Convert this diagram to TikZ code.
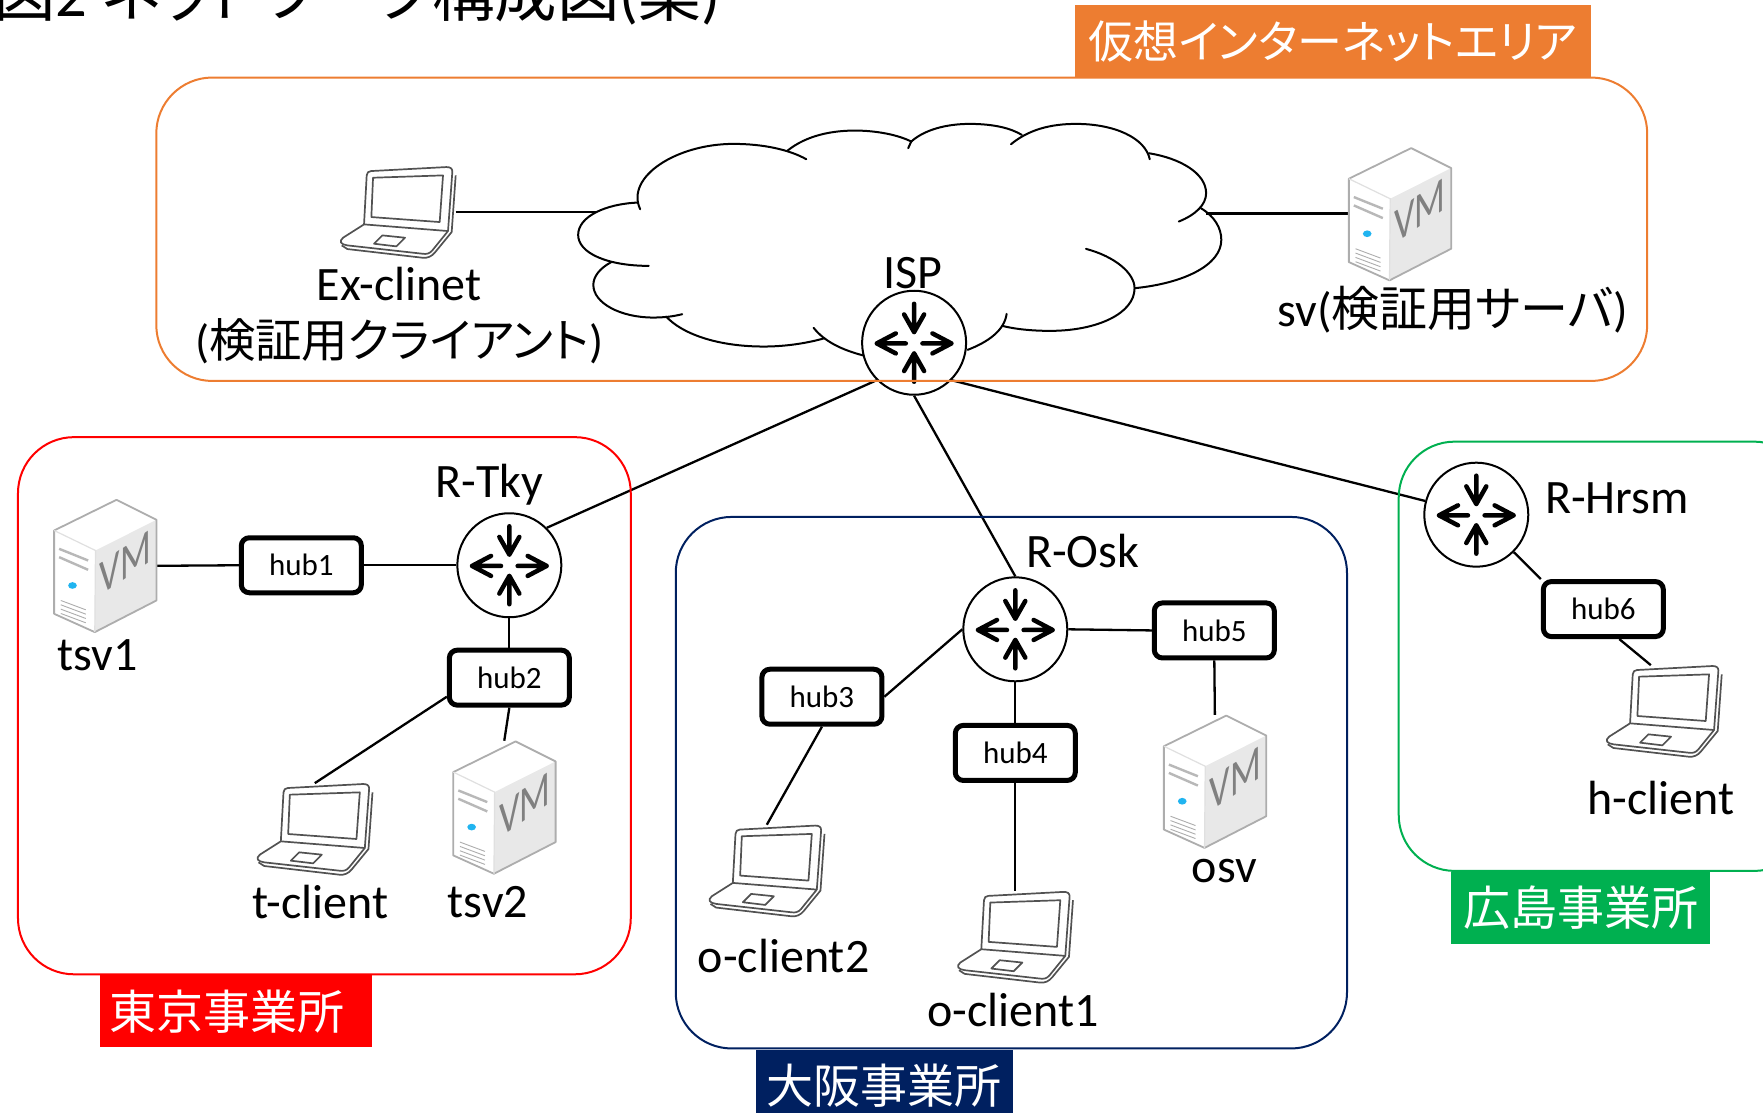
\documentclass[tikz,border=0pt]{standalone}
\usepackage{fontspec}
\setmainfont{Carlito}
\newfontfamily\jp[RawFeature=+palt]{Noto Sans CJK JP}
\newcommand{\J}[1]{{\jp #1}}
\definecolor{cOrange}{HTML}{ED7D31}
\definecolor{cRed}{HTML}{FF0000}
\definecolor{cNavy}{HTML}{002060}
\definecolor{cGreen}{HTML}{00B050}
\definecolor{cDot}{HTML}{20B4F0}
\tikzset{
  lbl/.style={inner sep=0pt,font=\fontsize{48}{54}\selectfont},
  hubbox/.style={draw=black,line width=5pt,fill=white,rounded corners=8pt,minimum width=120pt,minimum height=55pt,inner sep=0pt,font=\fontsize{31}{36}\selectfont},
  routerbox/.style={circle,draw=black,line width=2pt,fill=white,minimum size=104pt,inner sep=0pt},
  lapbox/.style={minimum width=115pt,minimum height=92pt,inner sep=0pt},
  vmbox/.style={minimum width=103pt,minimum height=133pt,inner sep=0pt},
  link/.style={draw=black,line width=2.3pt},
  cloudline/.style={draw=black,line width=2pt,line cap=round},
  site/.style={line width=2pt,rounded corners=56pt},
  tag/.style={inner sep=0pt,text=white,font=\fontsize{47}{52}\selectfont},
}
\newcommand{\laptopicon}[1]{%
\begin{scope}[shift={(#1.center)},x=.3333pt,y=-.3333pt,shift={(-237,-186)},draw=black!68,line width=1.7pt,line join=round]
  \draw (135,222) -- (143,75) .. controls (144,66) and (148,63) .. (156,62) -- (382,50) .. controls (394,50) and (400,54) .. (400,64) -- (387,242);
  \draw (162,82) -- (372,75) -- (362,215) -- (157,200) -- cycle;
  \draw (135,222) -- (387,242) -- (340,300) .. controls (332,310) and (322,312) .. (310,310) -- (85,285) .. controls (66,282) and (58,274) .. (72,262) -- cycle;
  \draw (190,255) -- (258,262) -- (232,288) -- (165,280) -- cycle;
  \draw (68,285) -- (85,296) -- (310,322) .. controls (326,324) and (338,318) .. (348,306) -- (398,245) -- (410,75);
\end{scope}}
\newcommand{\vmicon}[1]{%
\begin{scope}[shift={(#1.center)},x=.3333pt,y=-.3333pt,shift={(-301,-281)}]
  \fill[white] (148,175) -- (335,83) -- (455,143) -- (455,385) -- (270,480) -- (148,425) -- cycle;
  \fill[black!9] (272,235) -- (455,143) -- (455,385) -- (270,480) -- cycle;
  \draw[black!32,line width=1.8pt,line join=round] (148,175) -- (335,83) -- (455,143) -- (455,385) -- (270,480) -- (148,425) -- cycle;
  \draw[black!12,line width=1.2pt] (148,175) -- (272,235) -- (270,480);
  \draw[black!28,line width=2.4pt] (163,230) -- (250,265) (163,255) -- (250,293);
  \fill[cDot] (203,340) ellipse [x radius=13,y radius=10];
  \draw[black!32,line width=.9pt] (168,385) -- (243,413) (168,398) -- (243,426) (168,411) -- (243,439) (168,424) -- (243,452);
  \node[inner sep=0pt,text=black!50,font=\fontsize{50}{54}\selectfont,xscale=.72,yslant=.5] at (362,272) {VM};
\end{scope}}
\newcommand{\routerglyph}[1]{%
\begin{scope}[shift={(#1.center)},x=.3333pt,y=-.3333pt,line width=4.5pt,line cap=round,line join=round,draw=black]
  \draw (0,-117) -- (0,-32) (-30,-85) -- (0,-32) -- (30,-85);
  \draw (0,117) -- (0,32) (-30,85) -- (0,32) -- (30,85);
  \draw (-25,2) -- (-112,2) (-55,-28) -- (-112,2) -- (-55,32);
  \draw (25,2) -- (112,2) (55,-28) -- (112,2) -- (55,32);
\end{scope}}
\begin{document}
\begin{tikzpicture}[x=1.1244pt,y=-1.1238pt]
\useasboundingbox (0,0) rectangle (1568,990);
\clip (0,0) rectangle (1568,990);
% title
\node[anchor=base west,inner sep=0pt,font=\fontsize{62.5}{68}\selectfont] (title) at (-6,15) {\J{図}2 \J{ネットワーク構成図}(\J{案})};
% cloud
\begin{scope}[shift={(498,88.9)},x=.4337pt,y=-.3333pt]
 \draw[cloudline] (185,328) .. controls (150,230) and (270,132) .. (400,132) .. controls (470,132) and (530,150) .. (568,178);
 \draw[cloudline] (525,152) .. controls (570,105) and (630,92) .. (680,92) .. controls (730,92) and (780,105) .. (810,125) -- (803,145);
 \draw[cloudline] (810,125) .. controls (840,90) and (890,72) .. (945,72) .. controls (1000,72) and (1040,85) .. (1065,105);
 \draw[cloudline] (1040,133) .. controls (1080,90) and (1130,72) .. (1190,72) .. controls (1280,72) and (1350,115) .. (1360,178);
 \draw[cloudline] (1358,160) .. controls (1430,175) and (1490,220) .. (1490,280) .. controls (1490,315) and (1465,345) .. (1427,365);
 \draw[cloudline] (1478,325) .. controls (1510,350) and (1525,385) .. (1525,420) .. controls (1525,495) and (1440,550) .. (1325,565);
 \draw[cloudline] (1213,447) .. controls (1280,470) and (1325,520) .. (1325,565) .. controls (1325,640) and (1240,693) .. (1130,693) .. controls (1090,693) and (1050,688) .. (1020,678);
 \draw[cloudline] (1030,642) .. controls (1025,690) and (990,725) .. (940,750);
 \draw[cloudline] (700,767) .. controls (650,750) and (610,725) .. (585,684);
 \draw[cloudline] (610,715) .. controls (570,730) and (520,740) .. (470,740) .. controls (360,740) and (280,700) .. (245,650);
 \draw[cloudline] (282,643) .. controls (260,650) and (240,653) .. (215,653) .. controls (140,653) and (77,610) .. (77,555) .. controls (77,530) and (92,505) .. (118,487);
 \draw[cloudline] (205,498) .. controls (110,498) and (42,460) .. (42,405) .. controls (42,350) and (105,312) .. (180,308);
\end{scope}
% routers
\node[routerbox] (isp) at (813,305) {};
\node[routerbox] (rtky) at (453,503) {};
\node[routerbox] (rosk) at (903,560) {};
\node[routerbox] (rhrsm) at (1313,458) {};
% hubs
\node[hubbox] (hub1) at (268,503) {hub1};
\node[hubbox] (hub2) at (453,603) {hub2};
\node[hubbox] (hub3) at (731,620) {hub3};
\node[hubbox] (hub4) at (903,670) {hub4};
\node[hubbox] (hub5) at (1080,561) {hub5};
\node[hubbox] (hub6) at (1426,542) {hub6};
% devices
\node[lapbox] (exc) at (354,189) {};
\node[lapbox] (tclient) at (280,738) {};
\node[lapbox] (oclient2) at (682,775) {};
\node[lapbox] (oclient1) at (903,834) {};
\node[lapbox] (hclient) at (1480,633) {};
\node[vmbox] (sv) at (1245,190.5) {};
\node[vmbox] (tsv1) at (93.5,503.5) {};
\node[vmbox] (tsv2) at (448.5,718.5) {};
\node[vmbox] (osv) at (1080.5,695.5) {};
\coordinate (cloudw) at (530,188.5);
\coordinate (cloude) at (1073,190);
% connectors
\draw[link] (exc.east |- cloudw) -- (cloudw);
\draw[link] (sv.west |- cloude) -- (cloude);
\draw[link] (isp.225) -- (rtky.45);
\draw[link] (isp.south) -- (rosk.north);
\draw[link] (isp.-45) -- (rhrsm.165);
\draw[link] (rtky.west) -- (hub1.east);
\draw[link] (hub1.west) -- (tsv1.east);
\draw[link] (rtky.south) -- (hub2.north);
\draw[link] (hub2.197) -- (tclient.north);
\draw[link] (hub2.south) -- (tsv2.north);
\draw[link] (rosk.west) -- (hub3.east);
\draw[link] (hub3.south) -- (oclient2.north);
\draw[link] (rosk.south) -- (hub4.north);
\draw[link] (hub4.south) -- (oclient1.north);
\draw[link] (rosk.east) -- (hub5.west);
\draw[link] (hub5.south) -- (osv.north);
\draw[link] (rhrsm.-45) -- (hub6.north west);
\draw[link] (hub6.-62) -- (hclient.106);
% icons
\routerglyph{isp}\routerglyph{rtky}\routerglyph{rosk}\routerglyph{rhrsm}
\laptopicon{exc}\laptopicon{tclient}\laptopicon{oclient2}\laptopicon{oclient1}\laptopicon{hclient}
\vmicon{sv}\vmicon{tsv1}\vmicon{tsv2}\vmicon{osv}
% site frames
\draw[site,cOrange] (139,69) rectangle (1465,339);
\draw[site,cRed] (16,389) rectangle (561,867);
\draw[site,cNavy] (601,460) rectangle (1198,933);
\draw[site,cGreen] (1244,393) rectangle (1610,775);
% site tags
\node[tag,fill=cOrange,minimum width=516pt,minimum height=73pt,font=\fontsize{45}{50}\selectfont] (tago) at (1185.5,36.5) {\J{仮想インターネットエリア}};
\node[tag,fill=cRed,minimum width=272pt,minimum height=72pt] (tagr) at (210,900) {\J{東京事業所}\rule{18pt}{0pt}};
\node[tag,fill=cNavy,minimum width=257pt,minimum height=72pt] (tagn) at (786.5,966) {\J{大阪事業所}};
\node[tag,fill=cGreen,minimum width=259pt,minimum height=72pt] (tagg) at (1406,808) {\J{広島事業所}};
% labels
\node[lbl] (lex) at (355,253) {Ex-clinet};
\node[lbl,font=\fontsize{46.4}{52}\selectfont] (lexb) at (355,304) {(\J{検証用クライアント})};
\node[lbl] (lsv) at (1292,276) {sv(\J{検証用サーバ})};
\node[lbl] (lisp) at (812,243) {ISP};
\node[lbl] (ltky) at (435,431) {R-Tky};
\node[lbl] (losk) at (963,490) {R-Osk};
\node[lbl] (lhrsm) at (1438,443) {R-Hrsm};
\node[lbl] (ltsv1) at (87,583) {tsv1};
\node[lbl] (ltcl) at (285,803) {t-client};
\node[lbl] (ltsv2) at (434,803) {tsv2};
\node[lbl] (locl2) at (697,851) {o-client2};
\node[lbl] (locl1) at (901,899) {o-client1};
\node[lbl] (losv) at (1089,775) {osv};
\node[lbl] (lhcl) at (1477,710) {h-client};
\end{tikzpicture}
\end{document}
